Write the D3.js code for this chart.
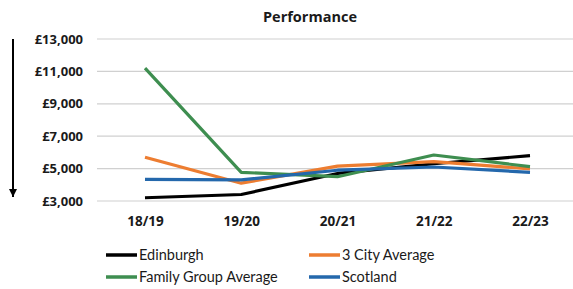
<!DOCTYPE html>
<html>
<head>
<meta charset="utf-8">
<script src="https://cdn.jsdelivr.net/npm/d3@7"></script>
<style>
  body { margin: 0; background: #fff; }
  text { font-family: "Open Sans", "Noto Sans", sans-serif; }
</style>
</head>
<body>
<div id="chart"></div>
<script>
// Chart data
var years = ["18/19", "19/20", "20/21", "21/22", "22/23"];
var edinburgh = [3200, 3400, 4700, 5300, 5800];
var cityAvg = [5700, 4100, 5150, 5430, 4980];
var familyAvg = [11200, 4770, 4500, 5840, 5120];
var scotland = [4340, 4300, 4900, 5100, 4770];
var yTicks = [3000, 5000, 7000, 9000, 11000, 13000];

var seriesNames = ["Edinburgh", "3 City Average", "Family Group Average", "Scotland"];
var seriesColors = ["#000000", "#ED7D31", "#3E8E50", "#2468AC"];
var series = [edinburgh, cityAvg, familyAvg, scotland];

var svgWidth = 573;
var svgHeight = 289;

var svg = d3.select("#chart")
  .append("svg")
  .attr("width", svgWidth)
  .attr("height", svgHeight);

// Scales
var xScale = d3.scalePoint()
  .domain(years)
  .range([145, 530]);

var yScale = d3.scaleLinear()
  .domain([3000, 13000])
  .range([201, 39]);

// Gridlines
svg.append("g")
  .selectAll("line")
  .data(yTicks)
  .enter()
  .append("line")
  .attr("x1", 97)
  .attr("x2", 573)
  .attr("y1", d => yScale(d))
  .attr("y2", d => yScale(d))
  .attr("stroke", "#d0d0d0")
  .attr("stroke-width", 1.2);

// Y axis labels
var leftAxis = d3.axisLeft(yScale)
  .tickValues(yTicks)
  .tickSize(0)
  .tickPadding(0)
  .tickFormat(d => "£" + d3.format(",")(d));

svg.append("g")
  .attr("transform", "translate(83,0)")
  .call(leftAxis)
  .call(g => g.select(".domain").remove())
  .selectAll("text")
  .attr("font-size", 13)
  .attr("font-weight", "bold")
  .attr("fill", "#1a1a1a")
  .style("font-family", "'Open Sans', sans-serif");

// X axis labels
var bottomAxis = d3.axisBottom(xScale)
  .tickSize(0)
  .tickPadding(0);

svg.append("g")
  .attr("transform", "translate(0,216)")
  .call(bottomAxis)
  .call(g => g.select(".domain").remove())
  .selectAll("text")
  .attr("font-size", 13.5)
  .attr("font-weight", "bold")
  .attr("fill", "#1a1a1a")
  .style("font-family", "'Open Sans', sans-serif");

// Lines
var line = d3.line()
  .x((d, i) => xScale(years[i]))
  .y(d => yScale(d));

svg.append("g")
  .selectAll("path")
  .data(series)
  .enter()
  .append("path")
  .attr("d", d => line(d))
  .attr("fill", "none")
  .attr("stroke", (d, i) => seriesColors[i])
  .attr("stroke-width", 3.2)
  .attr("stroke-linejoin", "round");

// Title
svg.append("text")
  .attr("x", 310)
  .attr("y", 22)
  .attr("text-anchor", "middle")
  .attr("font-size", 14.5)
  .attr("font-weight", "bold")
  .attr("fill", "#1a1a1a")
  .text("Performance");

// Arrow on the left
svg.append("defs").append("marker")
  .attr("id", "arrow")
  .attr("viewBox", "0 0 10 10")
  .attr("refX", 10)
  .attr("refY", 5)
  .attr("markerWidth", 4)
  .attr("markerHeight", 4)
  .attr("markerUnits", "strokeWidth")
  .attr("orient", "auto")
  .append("path")
  .attr("d", "M0,0 L10,5 L0,10 z")
  .attr("fill", "#000");

svg.append("line")
  .attr("x1", 13)
  .attr("x2", 13)
  .attr("y1", 39)
  .attr("y2", 197)
  .attr("stroke", "#000")
  .attr("stroke-width", 2)
  .attr("marker-end", "url(#arrow)");

// Legend
var legendPos = [[106, 260], [309, 260], [106, 282], [309, 282]];

var legend = svg.append("g")
  .selectAll("g")
  .data(seriesNames)
  .enter()
  .append("g")
  .attr("transform", (d, i) => `translate(${legendPos[i][0]}, ${legendPos[i][1]})`);

legend.append("line")
  .attr("x1", 0)
  .attr("x2", 31)
  .attr("y1", -5)
  .attr("y2", -5)
  .attr("stroke", (d, i) => seriesColors[i])
  .attr("stroke-width", 3.5);

legend.append("text")
  .attr("x", 33)
  .attr("y", 0)
  .attr("font-size", 14.5)
  .attr("fill", "#1a1a1a")
  .style("font-family", "Lato, sans-serif")
  .text(d => d);
</script>
</body>
</html>
